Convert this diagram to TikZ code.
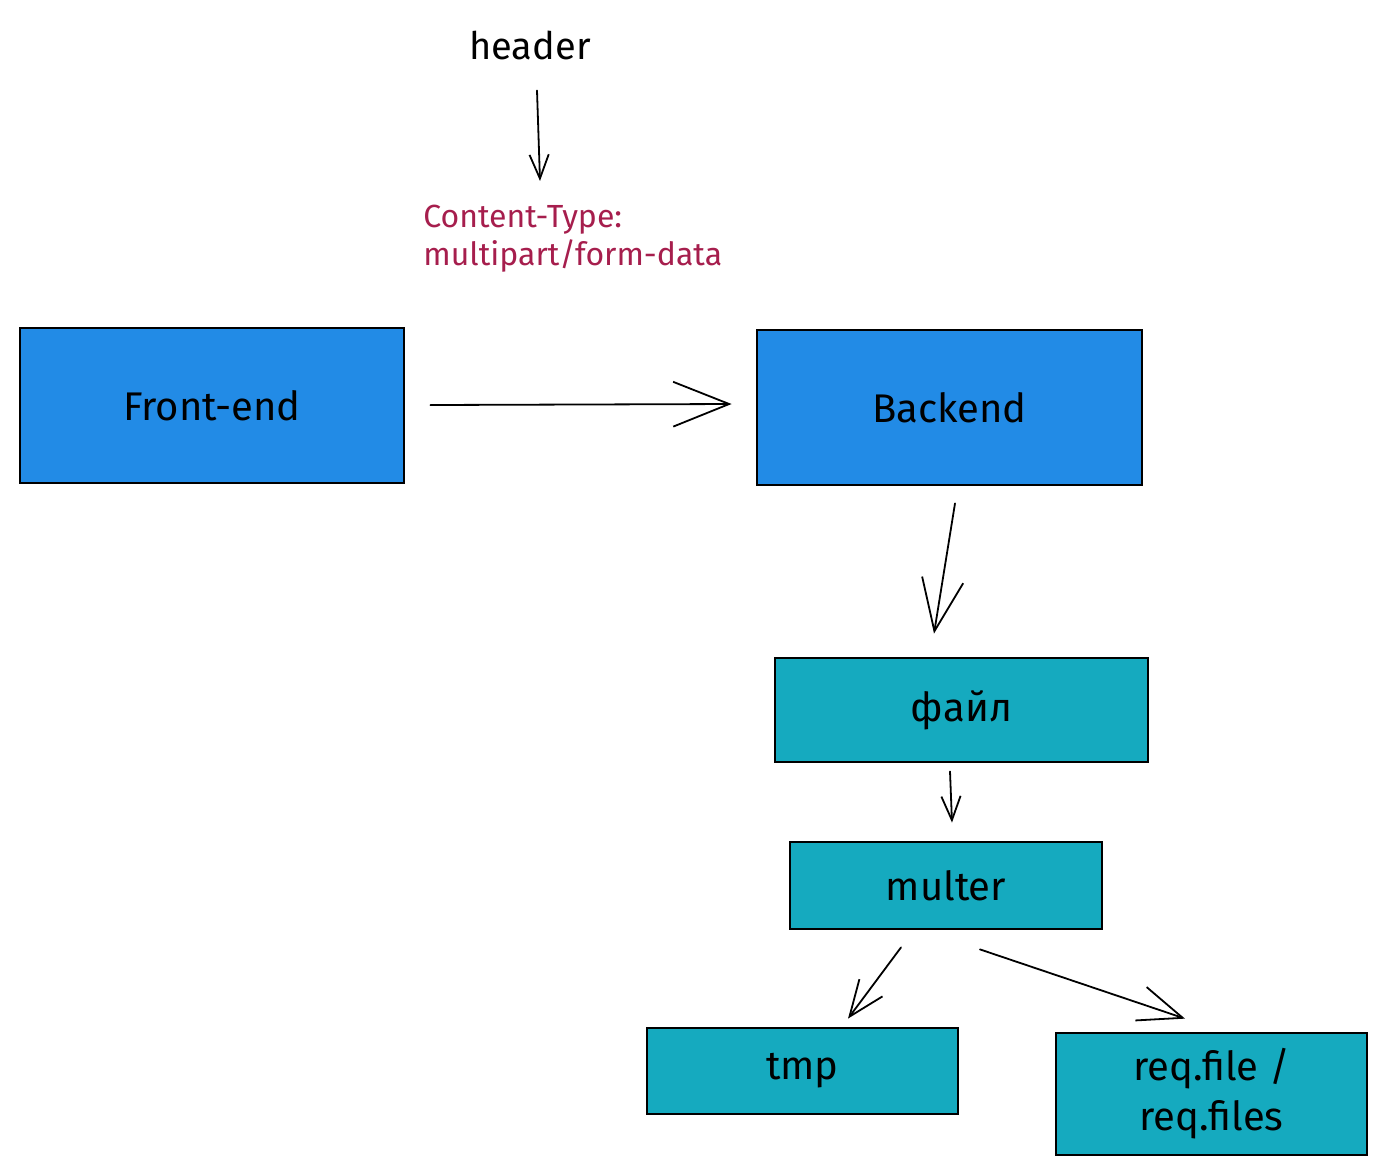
\documentclass[tikz,border=0pt]{standalone}
\usepackage{fontspec}
\setmainfont{Fira Sans}
\usetikzlibrary{arrows.meta}
\definecolor{boxblue}{HTML}{228BE6}
\definecolor{boxteal}{HTML}{15AABF}
\definecolor{notered}{HTML}{A61E4D}
\begin{document}
\begin{tikzpicture}[x=0.5pt,y=-0.5pt,
  box/.style={draw=black,line width=1.4pt,inner sep=0pt,align=center,
    font=\fontsize{20}{24}\selectfont},
  bluebox/.style={box,fill=boxblue},
  tealbox/.style={box,fill=boxteal},
  arr/.style={draw=black,line width=0.9pt,line cap=round,
    -{Straight Barb[length=#1,width=0.8*#1,line width=0.9pt]}},
  arr/.default=14pt]
\useasboundingbox (0,0) rectangle (1386,1174);

% top label and the header note
\node[font=\fontsize{19}{23}\selectfont] (header) at (530,45) {header};
\node[anchor=west,align=left,text=notered,inner sep=0pt,
  font=\fontsize{16}{19}\selectfont] (ctype) at (423,239)
  {Content-Type:\\multipart/form-data};

% boxes
\node[bluebox,minimum width=192pt,minimum height=77.5pt] (front) at (212,405.5) {Front-end};
\node[bluebox,minimum width=192.5pt,minimum height=77.5pt] (back) at (949.5,407.5) {Backend};
\node[tealbox,minimum width=186.5pt,minimum height=52pt] (file) at (961.5,710) {файл};
\node[tealbox,minimum width=156pt,minimum height=43.5pt] (multer) at (946,885.5) {multer};
\node[tealbox,minimum width=155.5pt,minimum height=43pt] (tmp) at (802.5,1071) {tmp};
\node[tealbox,minimum width=155.5pt,minimum height=61pt,
  font=\fontsize{20}{25}\selectfont] (req) at (1211.5,1094) {req.file /\\req.files};

% connectors
\draw[arr=12pt] ([xshift=3.5pt,yshift=-12pt]header.south) -- ([xshift=58.5pt,yshift=12pt]ctype.north west);
\draw[arr=28pt] ([xshift=12.5pt,yshift=0.25pt]front.east) -- ([xshift=-12pt,yshift=1.75pt]back.west);
\draw[arr=26pt] ([xshift=2.75pt,yshift=-8.5pt]back.south) -- ([xshift=-13.75pt,yshift=11.5pt]file.north);
\draw[arr=12pt] ([xshift=-5.75pt,yshift=-4pt]file.south) -- ([xshift=3pt,yshift=9pt]multer.north);
\draw[arr=18pt] ([xshift=-22.5pt,yshift=-8.5pt]multer.south) -- ([xshift=22.75pt,yshift=4pt]tmp.north);
\draw[arr=22pt] ([xshift=17pt,yshift=-9.5pt]multer.south) -- ([xshift=-13.25pt,yshift=6.5pt]req.north);
\end{tikzpicture}
\end{document}
